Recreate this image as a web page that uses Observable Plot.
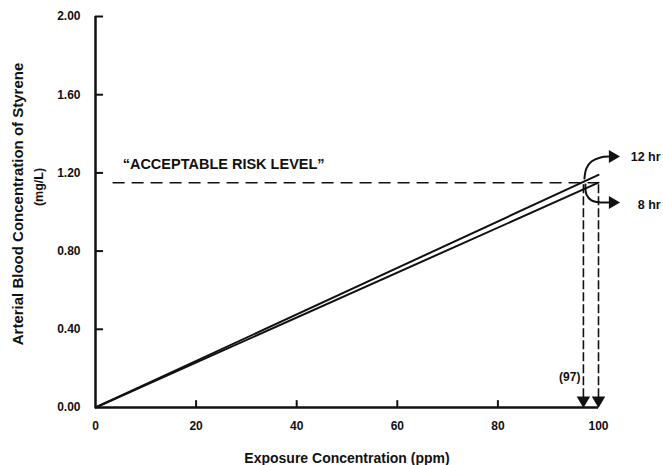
<!DOCTYPE html>
<html>
<head>
<meta charset="utf-8">
<script src="https://cdn.jsdelivr.net/npm/d3@7"></script>
<script src="https://cdn.jsdelivr.net/npm/@observablehq/plot@0.6"></script>
<style>
  html, body { margin: 0; padding: 0; background: #fff; }
  svg { display: block; }
</style>
</head>
<body>
<div id="chart"></div>
<script>
// Data
const exposure = [0, 100];                 // ppm
const blood12hr = [0, 1.19];               // mg/L, 12 hr exposure
const blood8hr = [0, 1.15];                // mg/L, 8 hr exposure
const riskLevel = 1.15;                    // "acceptable risk level" mg/L
const crossings = [97, 100];               // ppm where lines meet risk level
const xTicks = [0, 20, 40, 60, 80, 100];
const yTicks = [0, 0.4, 0.8, 1.2, 1.6, 2.0];

// Annotation arrow paths (data units)
const arrow12x = [97.2, 97.6, 98.6, 100.4, 102.0];
const arrow12y = [1.171, 1.223, 1.258, 1.279, 1.284];
const arrow8x = [97.4, 97.6, 98.6, 100.4, 102.0];
const arrow8y = [1.141, 1.090, 1.059, 1.049, 1.049];
const arrowHeads = [{x: 102.8, y: 1.284}, {x: 102.8, y: 1.049}];
const seriesLabels = [{x: 106.4, y: 1.279, text: "12 hr"}, {x: 107.8, y: 1.035, text: "8 hr"}];

const line12 = exposure.map((x, i) => ({x, y: blood12hr[i]}));
const line8 = exposure.map((x, i) => ({x, y: blood8hr[i]}));
const a12 = arrow12x.map((x, i) => ({x, y: arrow12y[i]}));
const a8 = arrow8x.map((x, i) => ({x, y: arrow8y[i]}));

const ink = "#111";
const font = "Liberation Sans, Arial, sans-serif";

const chart = Plot.plot({
  width: 663,
  height: 465,
  marginLeft: 95,
  marginRight: 65,
  marginTop: 16,
  marginBottom: 58,
  style: {fontFamily: font, fontWeight: "bold", fontSize: "12px", background: "#fff", color: ink},
  x: {domain: [0, 100]},
  y: {domain: [0, 2]},
  marks: [
    Plot.axisX(xTicks, {tickSize: 0, tickPadding: 14, label: null, fontSize: 12, fontWeight: "bold"}),
    Plot.axisY(yTicks, {tickSize: 0, tickPadding: 15, label: null, tickFormat: d3.format(".2f"), fontSize: 12, fontWeight: "bold"}),
    // inward ticks
    Plot.ruleY(yTicks.filter(d => d > 0), {y: d => d, x1: 0, x2: 1.6, stroke: ink, strokeWidth: 2}),
    Plot.ruleX(xTicks.filter(d => d > 0 && d < 100), {x: d => d, y1: 0, y2: 0.035, stroke: ink, strokeWidth: 2}),
    // axis lines
    Plot.ruleX([0], {y1: 0, y2: 2, stroke: ink, strokeWidth: 2.5}),
    Plot.ruleY([0], {x1: 0, x2: 100, stroke: ink, strokeWidth: 2.5}),
    // risk level
    Plot.ruleY([riskLevel], {x1: 3.5, x2: 100, stroke: ink, strokeWidth: 1.6, strokeDasharray: "12,7"}),
    Plot.text(["\u201CACCEPTABLE RISK LEVEL\u201D"], {x: 5.4, y: 1.243, textAnchor: "start", fontSize: 14.5, fontWeight: "bold", fill: ink}),
    // vertical dashed drop lines
    Plot.ruleX(crossings, {x: d => d, y1: 0.05, y2: riskLevel, stroke: ink, strokeWidth: 1.6, strokeDasharray: "9,3"}),
    Plot.dot(crossings, {x: d => d, y: 0.037, symbol: "triangle", rotate: 180, r: 5, fill: ink, stroke: "none"}),
    Plot.text(["(97)"], {x: 96.4, y: 0.155, textAnchor: "end", fontSize: 12, fontWeight: "bold", fill: ink}),
    // lines
    Plot.line(line12, {x: "x", y: "y", stroke: ink, strokeWidth: 2}),
    Plot.line(line8, {x: "x", y: "y", stroke: ink, strokeWidth: 2}),
    // curved arrows
    Plot.line(a12, {x: "x", y: "y", curve: "catmull-rom", stroke: ink, strokeWidth: 2}),
    Plot.line(a8, {x: "x", y: "y", curve: "catmull-rom", stroke: ink, strokeWidth: 2}),
    Plot.dot(arrowHeads, {x: "x", y: "y", symbol: "triangle", rotate: 90, r: 4.8, fill: ink, stroke: "none"}),
    Plot.text(seriesLabels, {x: "x", y: "y", text: "text", textAnchor: "start", fontSize: 12.5, fontWeight: "bold", fill: ink}),
    // axis titles
    Plot.text(["Exposure Concentration (ppm)"], {frameAnchor: "bottom", dy: 51, lineAnchor: "middle", textAnchor: "middle", fontSize: 14, fontWeight: "bold", fill: ink}),
    Plot.text(["Arterial Blood Concentration of Styrene"], {frameAnchor: "left", dx: -77, dy: -8, rotate: -90, textAnchor: "middle", lineAnchor: "middle", fontSize: 15, fontWeight: "bold", fill: ink}),
    Plot.text(["(mg/L)"], {frameAnchor: "left", dx: -57, dy: -25, rotate: -90, textAnchor: "middle", lineAnchor: "middle", fontSize: 12.5, fontWeight: "bold", fill: ink})
  ]
});
document.getElementById("chart").appendChild(chart);
</script>
</body>
</html>
